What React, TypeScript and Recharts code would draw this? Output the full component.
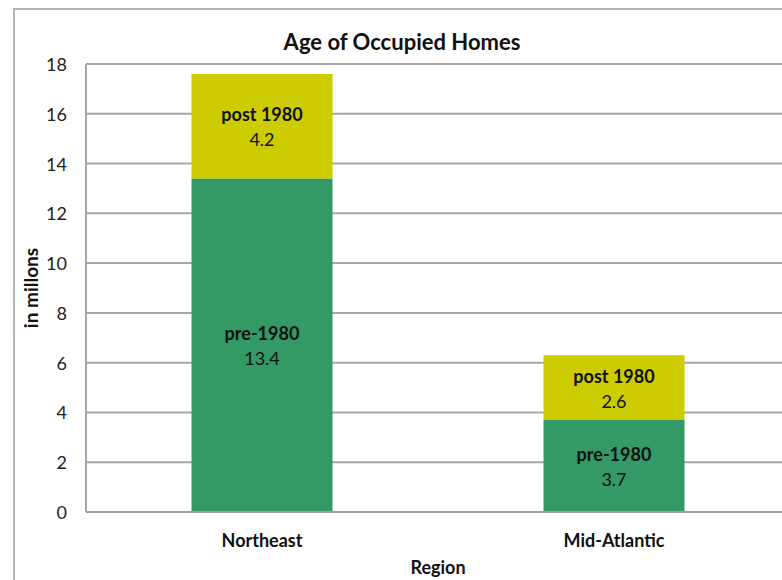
import React from "react";
import { BarChart, Bar, XAxis, YAxis, CartesianGrid, LabelList } from "recharts";

const categories = ["Northeast", "Mid-Atlantic"];
const pre1980 = [13.4, 3.7];
const post1980 = [4.2, 2.6];
const yTicks = [0, 2, 4, 6, 8, 10, 12, 14, 16, 18];

const data = categories.map((c, i) => ({ region: c, pre: pre1980[i], post: post1980[i] }));

const FONT = "Lato, 'Open Sans', sans-serif";

const makeLabel = (name: string) => (props: any) => {
  const { x, y, width, height, value } = props;
  const cx = x + width / 2;
  const cy = y + height / 2;
  return (
    <g>
      <text x={cx} y={cy - 12} textAnchor="middle" dominantBaseline="central" fontFamily={FONT} fontSize={18} fontWeight="bold" fill="#111">
        {name}
      </text>
      <text x={cx} y={cy + 13} textAnchor="middle" dominantBaseline="central" fontFamily={FONT} fontSize={18} fill="#111">
        {value}
      </text>
    </g>
  );
};

const XTick = (props: any) => {
  const { x, y, payload } = props;
  return (
    <text x={x} y={y + 20} textAnchor="middle" dominantBaseline="central" fontFamily={FONT} fontSize={18} fontWeight="bold" fill="#111">
      {payload.value}
    </text>
  );
};

const YTick = (props: any) => {
  const { x, y, payload } = props;
  return (
    <text x={x - 11} y={y} textAnchor="end" dominantBaseline="central" fontFamily={FONT} fontSize={18} fill="#222">
      {payload.value}
    </text>
  );
};

export default function App() {
  return (
    <div style={{ position: "fixed", left: 0, top: 0, width: 782, height: 580, overflow: "hidden", background: "#fff" }}>
      <div style={{ position: "absolute", left: 13, top: 8, width: 900, height: 700, border: "2px solid #b4b4b4", boxSizing: "border-box" }} />
      <div style={{ position: "absolute", left: 8, top: 8 }}>
        <BarChart width={800} height={620} data={data} margin={{ top: 56, right: 18, bottom: 56, left: 18 }} barCategoryGap={105.5}>
          <CartesianGrid vertical={false} stroke="#a6a6a6" strokeWidth={2} />
          <XAxis dataKey="region" axisLine={{ stroke: "#a0a0a0", strokeWidth: 2 }} tickLine={false} height={60} tick={<XTick />} interval={0} />
          <YAxis domain={[0, 18]} ticks={yTicks} width={60} axisLine={{ stroke: "#a6a6a6", strokeWidth: 2 }} tickLine={false} tick={<YTick />} interval={0} />
          <Bar dataKey="pre" stackId="a" fill="#339966" isAnimationActive={false}>
            <LabelList dataKey="pre" content={makeLabel("pre-1980")} />
          </Bar>
          <Bar dataKey="post" stackId="a" fill="#cccc00" isAnimationActive={false}>
            <LabelList dataKey="post" content={makeLabel("post 1980")} />
          </Bar>
        </BarChart>
      </div>
      <div style={{ position: "absolute", left: 402, top: 41, transform: "translate(-50%, -50%)", fontFamily: FONT, fontWeight: "bold", fontSize: 22, color: "#111", whiteSpace: "nowrap" }}>
        Age of Occupied Homes
      </div>
      <div style={{ position: "absolute", left: 30, top: 288, transform: "translate(-50%, -50%) rotate(-90deg)", fontFamily: FONT, fontWeight: "bold", fontSize: 19, color: "#111", whiteSpace: "nowrap" }}>
        in millons
      </div>
      <div style={{ position: "absolute", left: 438, top: 567, transform: "translate(-50%, -50%)", fontFamily: FONT, fontWeight: "bold", fontSize: 18, color: "#111", whiteSpace: "nowrap" }}>
        Region
      </div>
    </div>
  );
}
